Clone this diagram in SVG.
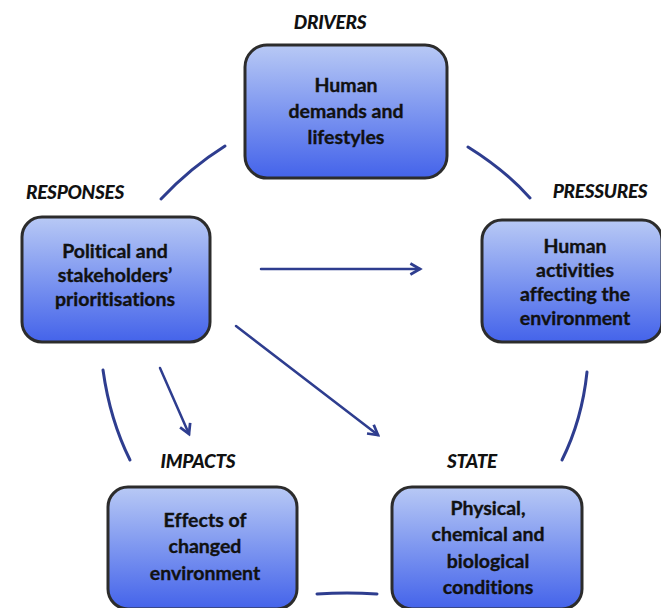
<svg xmlns="http://www.w3.org/2000/svg" width="661" height="608" viewBox="0 0 661 608">
<defs>
<linearGradient id="g" x1="0" y1="0" x2="0" y2="1">
<stop offset="0" stop-color="#b8c9f5"/>
<stop offset="0.5" stop-color="#7d96f0"/>
<stop offset="1" stop-color="#4463ea"/>
</linearGradient>
<marker id="ah" viewBox="0 0 10 10" refX="8" refY="5" markerWidth="5.5" markerHeight="5.5" orient="auto" markerUnits="strokeWidth">
<path d="M1,1 L8,5 L1,9" fill="none" stroke="#2e3d8f" stroke-width="2" stroke-linejoin="miter"/>
</marker>
</defs>
<style>
.box{fill:url(#g);stroke:#2c2c2c;stroke-width:3}
.t{font-family:Lato,"Open Sans",sans-serif;font-weight:bold;font-size:19.5px;fill:#111;stroke:#111;stroke-width:0.35px;text-anchor:middle;font-variant-ligatures:none}
.lab{font-family:Lato,"Open Sans",sans-serif;font-weight:900;font-style:italic;font-size:19px;fill:#111;text-anchor:middle;letter-spacing:-0.3px}
.c{fill:none;stroke:#2e3d8f;stroke-width:3;stroke-linecap:round}
.a{fill:none;stroke:#2e3d8f;stroke-width:2.5;stroke-linecap:round;marker-end:url(#ah)}
</style>
<rect width="661" height="608" fill="#fff"/>
<g id="connectors">
<path class="c" d="M161,199 Q190,168 225,146"/>
<path class="c" d="M468,147 Q505,170 530,198"/>
<path class="c" d="M587,372 Q582,420 562,460"/>
<path class="c" d="M103,370 Q110,420 130,460"/>
<path class="c" d="M317,594 Q347,592 377,594"/>
<path class="a" d="M261,269 L420,269"/>
<path class="a" d="M160,368 L189,434"/>
<path class="a" d="M236,326 L378,435"/>
</g>
<g id="drivers">
<rect class="box" x="245" y="45" width="202" height="133" rx="22"/>
<text class="lab" x="330" y="29">DRIVERS</text>
<text class="t" x="346" y="92">Human</text>
<text class="t" x="346" y="118">demands and</text>
<text class="t" x="346" y="144">lifestyles</text>
</g>
<g id="pressures">
<rect class="box" x="482" y="220" width="180" height="122" rx="20"/>
<text class="lab" x="600" y="198">PRESSURES</text>
<text class="t" x="575" y="253">Human</text>
<text class="t" x="575" y="277">activities</text>
<text class="t" x="575" y="301">affecting the</text>
<text class="t" x="575" y="325">environment</text>
</g>
<g id="state">
<rect class="box" x="392" y="487" width="190" height="122" rx="20"/>
<text class="lab" x="472" y="468">STATE</text>
<text class="t" x="488" y="515">Physical,</text>
<text class="t" x="488" y="541">chemical and</text>
<text class="t" x="488" y="568">biological</text>
<text class="t" x="488" y="594">conditions</text>
</g>
<g id="impacts">
<rect class="box" x="108" y="487" width="189" height="122" rx="20"/>
<text class="lab" x="198" y="468">IMPACTS</text>
<text class="t" x="205" y="527">Effects of</text>
<text class="t" x="205" y="553">changed</text>
<text class="t" x="205" y="580">environment</text>
</g>
<g id="responses">
<rect class="box" x="22" y="217" width="188" height="125" rx="20"/>
<text class="lab" x="75" y="199">RESPONSES</text>
<text class="t" x="115" y="258">Political and</text>
<text class="t" x="115" y="282">stakeholders’</text>
<text class="t" x="115" y="306">prioritisations</text>
</g>
</svg>
